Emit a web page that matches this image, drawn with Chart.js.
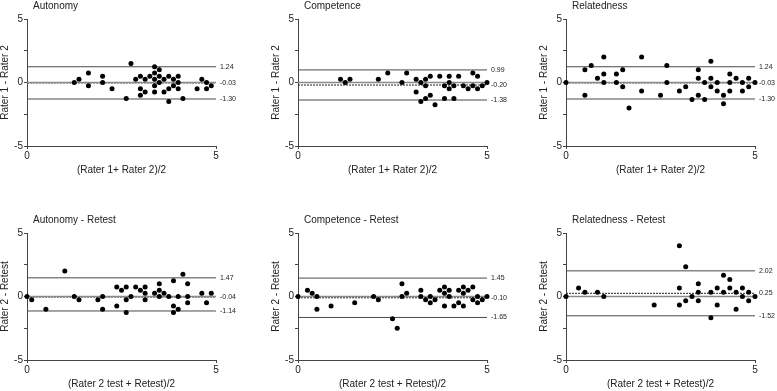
<!DOCTYPE html>
<html>
<head>
<meta charset="utf-8">
<script src="https://cdn.jsdelivr.net/npm/chart.js@4.4.1/dist/chart.umd.min.js"></script>
<style>
  html, body { margin: 0; padding: 0; background: #fff; overflow: hidden; }
  body { width: 777px; height: 391px; position: relative; }
  canvas { position: absolute; }
</style>
</head>
<body>
<canvas id="p0" width="246" height="180" style="left:0px;top:0px"></canvas>
<canvas id="p1" width="246" height="180" style="left:271px;top:0px"></canvas>
<canvas id="p2" width="246" height="180" style="left:539px;top:0px"></canvas>
<canvas id="p3" width="246" height="180" style="left:0px;top:214px"></canvas>
<canvas id="p4" width="246" height="180" style="left:271px;top:214px"></canvas>
<canvas id="p5" width="246" height="180" style="left:539px;top:214px"></canvas>
<script>
// Bland-Altman plots: mean of the two ratings (x) vs difference (y)
const titles = ["Autonomy", "Competence", "Relatedness",
    "Autonomy - Retest", "Competence - Retest", "Relatedness - Retest"];
const xTitles = ["(Rater 1+ Rater 2)/2", "(Rater 1+ Rater 2)/2", "(Rater 1+ Rater 2)/2",
    "(Rater 2 test + Retest)/2", "(Rater 2 test + Retest)/2", "(Rater 2 test + Retest)/2"];
const yTitles = ["Rater 1 - Rater 2", "Rater 1 - Rater 2", "Rater 1 - Rater 2",
    "Rater 2 - Retest", "Rater 2 - Retest", "Rater 2 - Retest"];

// upper limit, bias, lower limit
const autLimits = [1.24, -0.03, -1.30];
const compLimits = [0.99, -0.20, -1.38];
const relLimits = [1.24, -0.03, -1.30];
const autRLimits = [1.47, -0.04, -1.14];
const compRLimits = [1.45, -0.10, -1.65];
const relRLimits = [2.02, 0.25, -1.52];

const autX = [1.25, 1.375, 1.625, 1.625, 2.0, 2.0, 2.25, 2.625, 2.75, 2.875, 3.0, 3.0, 3.0, 3.125, 3.125,
    3.25, 3.375, 3.375, 3.375, 3.375, 3.375, 3.5, 3.5, 3.5, 3.625, 3.625, 3.75, 3.75, 3.75, 3.875, 3.875,
    4.0, 4.0, 4.0, 4.125, 4.5, 4.625, 4.75, 4.75, 4.875];
const autY = [0, 0.25, 0.75, -0.25, 0.5, 0, -0.5, -1.25, 1.5, 0.25, 0.5, -0.5, -1.0, 0.25, -0.75,
    0.5, 1.25, 0.75, 0.25, -0.25, -0.75, 1.0, 0.5, 0, 0.25, -0.75, 0.5, -0.5, -1.5, 0.25, -0.25,
    0.5, 0, -0.5, -1.25, -0.5, 0.25, 0, -0.5, -0.25];

const compX = [1.125, 1.25, 1.375, 2.125, 2.375, 2.75, 2.875, 3.125, 3.125, 3.25, 3.25, 3.375, 3.375,
    3.375, 3.5, 3.5, 3.625, 3.75, 3.875, 3.875, 4.0, 4.0, 4.0, 4.125, 4.125, 4.25, 4.375, 4.5,
    4.625, 4.625, 4.75, 4.75, 4.875, 5.0];
const compY = [0.25, 0, 0.25, 0.25, 0.75, 0, 0.75, 0.25, -0.75, 0, -1.5, 0.25, -0.25,
    -1.25, 0.5, -1.0, -1.75, 0.5, -0.25, -1.25, 0.5, 0, -0.5, -0.25, -1.25, 0.5, -0.25, -0.5,
    0.75, -0.25, 0.5, -0.5, -0.25, 0];

const relX = [0, 0.5, 0.5, 0.667, 0.833, 1.0, 1.0, 1.0, 1.333, 1.333, 1.5, 1.5, 1.667, 2.0, 2.0,
    2.5, 2.667, 2.667, 3.0, 3.167, 3.333, 3.5, 3.5, 3.5, 3.667, 3.667, 3.833, 3.833, 3.833,
    4.0, 4.0, 4.167, 4.167, 4.333, 4.333, 4.333, 4.5, 4.667, 4.667, 4.833, 4.833, 5.0];
const relY = [0, 1.0, -1.0, 1.333, 0.333, 2.0, 0.667, 0, 0.667, 0, 1.0, -0.333, -2.0, 2.0, -0.667,
    -1.0, 1.333, 0, -0.667, -0.333, -1.333, 1.0, 0.333, -1.0, 0, -1.333, 1.667, 0.333, -0.333,
    0, -0.667, -1.0, -1.667, 0.667, 0, -0.667, 0.333, 0, -0.667, 0.333, -0.333, 0];

const autRX = [0, 0.125, 0.5, 1.0, 1.25, 1.375, 1.875, 2.0, 2.0, 2.375, 2.375, 2.5, 2.625, 2.625,
    2.625, 2.75, 2.875, 3.0, 3.125, 3.125, 3.125, 3.375, 3.5, 3.5, 3.5, 3.625, 3.75, 3.875, 3.875,
    3.875, 4.0, 4.0, 4.125, 4.25, 4.25, 4.25, 4.625, 4.75, 4.875];
const autRY = [0, -0.25, -1.0, 2.0, 0, -0.25, -0.25, 0, -1.0, 0.75, -0.75, 0.5, 0.75, -0.25,
    -1.25, 0, 0.75, 0.5, 0.75, 0.25, -0.25, 0.25, 1.0, 0.5, 0, 0.25, 0, 1.25, -0.75,
    -1.25, 0, -1.0, 1.75, 1.0, 0, -0.5, 0.25, -0.5, 0.25];

const compRX = [0, 0.25, 0.375, 0.5, 0.5, 0.875, 1.5, 2.0, 2.125, 2.5, 2.625, 2.75, 2.75, 2.875,
    3.25, 3.25, 3.375, 3.5, 3.5, 3.625, 3.75, 3.875, 3.875, 3.875, 4.0, 4.0, 4.125, 4.25, 4.25,
    4.375, 4.375, 4.375, 4.5, 4.625, 4.625, 4.75, 4.75, 4.875, 5.0];
const compRY = [0, 0.5, 0.25, 0, -1.0, -0.75, -0.5, 0, -0.25, -1.75, -2.5, 1.0, 0, 0.25,
    0.5, 0, -0.25, 0, -0.5, -0.25, 0.5, 0.75, 0.25, -0.75, 0.5, 0, -0.75, 0.5, -0.5,
    0.75, 0.25, -0.75, 0.5, 0.75, -0.25, 0, -0.5, -0.25, 0];

const relRX = [0, 0.333, 0.5, 0.833, 1.0, 2.333, 3.0, 3.0, 3.0, 3.167, 3.167, 3.333, 3.5, 3.5,
    3.5, 3.833, 3.833, 4.0, 4.0, 4.167, 4.167, 4.333, 4.333, 4.5, 4.5, 4.667, 4.667, 4.833, 4.833, 5.0];
const relRY = [0, 0.667, 0.333, 0.333, 0, -0.667, 4.0, 0.667, -0.667, 2.333, -0.333, 0, 1.0, 0.333,
    -0.333, 0.333, -1.667, 0.667, -0.667, 1.667, 0.333, 1.333, 0.667, 0.333, -1.0, 0.667, 0, 0.333, -0.333, 0];

const panelX = [autX, compX, relX, autRX, compRX, relRX];
const panelY = [autY, compY, relY, autRY, compRY, relRY];
const panelLimits = [autLimits, compLimits, relLimits, autRLimits, compRLimits, relRLimits];

Chart.defaults.font.family = '"Liberation Sans", Arial, Helvetica, sans-serif';
Chart.defaults.color = '#222';

const panelTitle = {
    id: 'panelTitle',
    afterDraw(chart, args, opts) {
        const ctx = chart.ctx;
        ctx.save();
        ctx.font = '10px "Liberation Sans", Arial, sans-serif';
        ctx.fillStyle = '#222';
        ctx.textBaseline = 'middle';
        ctx.fillText(opts.text, chart.chartArea.left + 6, 6);
        ctx.restore();
    }
};

function hline(v, color, width, dash) {
    return {
        type: 'line',
        data: [{x: 0, y: v}, {x: 5, y: v}],
        borderColor: color,
        borderWidth: width,
        borderDash: dash || [],
        pointRadius: 0,
        order: 2,
        clip: false
    };
}

function makePanel(i) {
    const lims = panelLimits[i];
    const pts = panelX[i].map((x, k) => ({x: x, y: panelY[i][k]}));
    new Chart(document.getElementById('p' + i), {
        type: 'scatter',
        data: {
            datasets: [
                {data: pts, backgroundColor: '#000', borderWidth: 0, pointRadius: 2.5, order: 0, clip: false},
                hline(lims[0], '#4a4a4a', 1),
                hline(lims[2], '#4a4a4a', 1),
                hline(0, '#8a8a8a', 1.5),
                hline(lims[1], '#222', 1, [2, 1])
            ]
        },
        plugins: [panelTitle],
        options: {
            responsive: false,
            animation: false,
            events: [],
            layout: {padding: {top: 19, left: 0, right: 0, bottom: 0}},
            plugins: {
                legend: {display: false},
                tooltip: {enabled: false},
                panelTitle: {text: titles[i]}
            },
            scales: {
                x: {
                    type: 'linear', min: 0, max: 5,
                    afterBuildTicks: a => { a.ticks = [0, 5].map(v => ({value: v})); },
                    grid: {drawOnChartArea: false, tickLength: 3, color: '#444'},
                    border: {color: '#444', width: 1},
                    ticks: {font: {size: 10}, padding: 1, maxRotation: 0, autoSkip: false},
                    title: {display: true, text: xTitles[i], font: {size: 10, lineHeight: 1.2},
                        padding: {top: 0, bottom: 4}},
                    afterFit: a => { a.height = 34; }
                },
                y: {
                    type: 'linear', min: -5, max: 5,
                    afterBuildTicks: a => { a.ticks = [-5, -2.5, 0, 2.5, 5].map(v => ({value: v})); },
                    grid: {drawOnChartArea: false, tickLength: 3, color: '#444'},
                    border: {color: '#444', width: 1},
                    ticks: {font: {size: 10}, padding: 1, autoSkip: false,
                        callback: v => (v % 5 === 0 ? String(v) : '')},
                    title: {display: true, text: yTitles[i], font: {size: 10, lineHeight: 1},
                        padding: 0},
                    afterFit: a => { a.width = 27; }
                },
                r: {
                    type: 'linear', position: 'right', min: -5, max: 5,
                    afterBuildTicks: a => { a.ticks = lims.map(v => ({value: v})); },
                    grid: {display: false, drawTicks: false},
                    border: {display: false},
                    ticks: {font: {size: 7}, padding: 4, autoSkip: false,
                        callback: v => v.toFixed(2)},
                    afterFit: a => { a.width = 30; }
                }
            }
        }
    });
}

for (let i = 0; i < 6; i++) makePanel(i);
</script>
</body>
</html>
